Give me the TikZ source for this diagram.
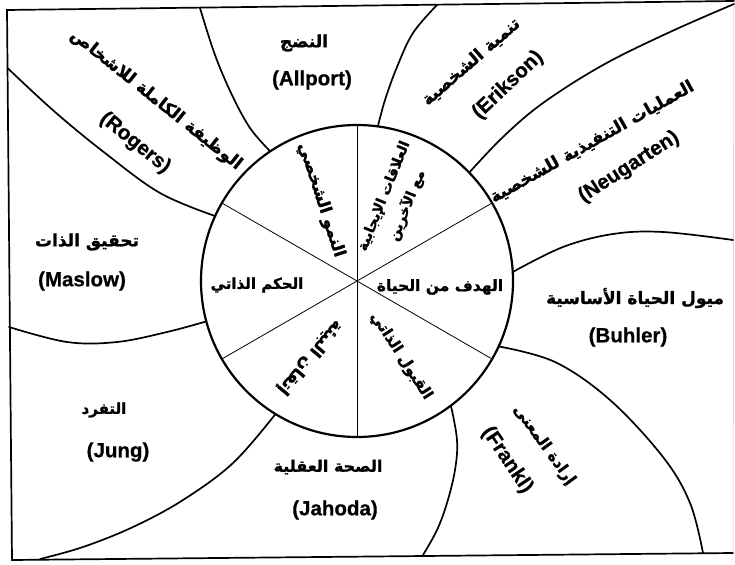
\documentclass[tikz,border=0pt]{standalone}
\usepackage{fontspec}
\setmainfont{Liberation Sans}[BoldFeatures={FakeBold=0.6}]
\newfontfamily\arabicfont[Script=Arabic, BoldFeatures={FakeBold=1.2}]{DejaVu Sans}
\TeXXeTstate=1
\begin{document}
\begin{tikzpicture}[x=1pt,y=-1pt,
  ar/.style={font=\arabicfont\bfseries\fontsize{17}{22}\selectfont, inner sep=0pt, align=center},
  arsize/.style={font=\arabicfont\bfseries\fontsize{#1}{25}\selectfont},
  la/.style={font=\bfseries\fontsize{20.5}{24}\selectfont, inner sep=0pt},
  divider/.style={line width=1.7pt, line join=round, line cap=round},
  frameline/.style={line width=1.7pt, line cap=round},
  circ/.style={line width=2.2pt},
  sector/.style={line width=0.8pt}]
\useasboundingbox (0,0) rectangle (735,564);
% frame
\coordinate (tl) at (7,10);
\coordinate (tr) at (734,1);
\coordinate (br) at (733,553);
\coordinate (bl) at (12,560);
\draw[frameline] (br) -- (bl) -- (tl) -- (tr);
\draw[line width=0.5pt, gray!50] (tr) -- (br);
% centre
\coordinate (C) at (357,281);
\path (C) ++(-155.4:156) coordinate (d1);
\path (C) ++(-123.8:156) coordinate (d2);
\path (C) ++(-82.3:156) coordinate (d3);
\path (C) ++(-44:156) coordinate (d4);
\path (C) ++(-3.3:156) coordinate (d5);
\path (C) ++(24.8:156) coordinate (d6);
\path (C) ++(53:156) coordinate (d7);
\path (C) ++(121.5:156) coordinate (d8);
\path (C) ++(165:156) coordinate (d9);
% dividers
\draw[divider] plot[smooth, tension=0.6] coordinates {(d1) (160,193) (105,153) (55,112) (7.5,68)};
\draw[divider] plot[smooth, tension=0.6] coordinates {(d2) (250,128) (232,95) (215,55) (200,8)};
\draw[divider] plot[smooth, tension=0.6] coordinates {(d3) (385,100) (397,67) (413,33) (437,5)};
\draw[divider] plot[smooth, tension=0.6] coordinates {(d4) (503,137) (543,103) (603,65) (670,32) (734,4)};
\draw[divider] plot[smooth, tension=0.6] coordinates {(d5) (563,247) (613,234) (663,232) (733,240)};
\draw[divider] plot[smooth, tension=0.6] coordinates {(d6) (555,362) (610,400) (663,457) (690,503) (703,553)};
\draw[divider] plot[smooth, tension=0.6] coordinates {(d7) (457,440) (455,470) (447,503) (437,530) (423,555)};
\draw[divider] plot[smooth, tension=0.6] coordinates {(d8) (233,463) (183,500) (133,527) (83,547) (40,559)};
\draw[divider] plot[smooth, tension=0.6] coordinates {(d9) (167,332) (117,342) (67,342) (9,327)};
% circle and sectors
\foreach \a in {30,90,150,210,270,330} \draw[sector] (C) -- ++(\a:156);
\draw[circ] (C) circle[radius=156];
% inner labels
\node[ar, arsize=14, rotate=68] (s60) at (396,201) {\beginR العلاقات الإيجابية\endR\\\beginR مع الآخرين\endR};
\node[ar, arsize=15.5] (s0) at (440,287) {\beginR الهدف من الحياة\endR};
\node[ar, arsize=15, rotate=-57] (s300) at (401,356) {\beginR القبول الذاتي\endR};
\node[ar, arsize=16.5, rotate=230] (s240) at (310,357) {\beginR إتقان البيئة\endR};
\node[ar, arsize=15] (s180) at (257,285) {\beginR الحكم الذاتي\endR};
\node[ar, arsize=16.5, rotate=-72] (s120) at (321,200) {\beginR النمو الشخصي\endR};
% outer labels
\node[ar, rotate=-38.6] (rogersA) at (156,100) {\beginR الوظيفة الكاملة للاشخاص\endR};
\node[la, rotate=-39] (rogersL) at (135,143) {(Rogers)};
\node[ar] (allportA) at (304,43) {\beginR النضج\endR};
\node[la] (allportL) at (312,80) {(Allport)};
\node[ar, rotate=41] (eriksonA) at (471,62) {\beginR تنمية الشخصية\endR};
\node[la, rotate=43.6] (eriksonL) at (508,85) {(Erikson)};
\node[ar, rotate=29.4] (neugartenA) at (592,142) {\beginR العمليات التنفيذية للشخصية\endR};
\node[la, rotate=32.7] (neugartenL) at (629,167) {(Neugarten)};
\node[ar] (buhlerA) at (635,298) {\beginR ميول الحياة الأساسية\endR};
\node[la] (buhlerL) at (628,337) {(Buhler)};
\node[ar, arsize=15.5, rotate=-54] (franklA) at (544,445) {\beginR إرادة المعنى\endR};
\node[la, rotate=-56] (franklL) at (507,460) {(Frankl)};
\node[ar, arsize=16] (jahodaA) at (328,467) {\beginR الصحة العقلية\endR};
\node[la] (jahodaL) at (335,510) {(Jahoda)};
\node[ar, arsize=15] (jungA) at (104,410) {\beginR التفرد\endR};
\node[la] (jungL) at (118,452) {(Jung)};
\node[ar] (maslowA) at (87,242) {\beginR تحقيق الذات\endR};
\node[la] (maslowL) at (82,281) {(Maslow)};
\end{tikzpicture}
\end{document}
